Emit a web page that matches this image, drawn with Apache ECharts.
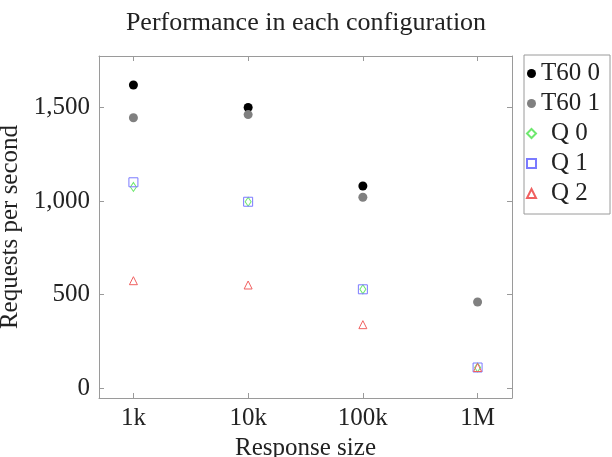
<!DOCTYPE html>
<html>
<head>
<meta charset="utf-8">
<script src="https://cdn.jsdelivr.net/npm/echarts@6/dist/echarts.min.js"></script>
<style>
  html, body { margin: 0; padding: 0; background: #fff; }
  #chart { width: 612px; height: 457px; }
</style>
</head>
<body>
<div id="chart"></div>
<script>
// response sizes, drawn at positions 0..3
var sizeLabels = ["1k", "10k", "100k", "1M"];
var yTicks = [0, 500, 1000, 1500];

// requests per second, one value per response size
var t60_0 = [1620, 1500, 1080, null];
var t60_1 = [1445, 1462, 1020, 460];
var q_0 = [1075, 996, 528, 110];
var q_1 = [1100, 996, 528, 110];
var q_2 = [574, 551, 339, 110];

var serif = "Liberation Serif";
var frame = "#9a9a9a";
var ink = "#222";

function pts(arr) {
  var out = [];
  arr.forEach(function (v, i) {
    if (v !== null) out.push([i, v]);
  });
  return out;
}

function fmtNum(v) {
  return String(v).replace(/\B(?=(\d{3})+(?!\d))/g, ",");
}

var chart = echarts.init(document.getElementById("chart"));

var xBase = {
  type: "value",
  min: -0.3,
  max: 3.3,
  splitLine: { show: false },
  axisLine: { show: true, onZero: false, lineStyle: { color: frame, width: 1 } },
  axisTick: { show: true, inside: true, length: 5, customValues: [0, 1, 2, 3], lineStyle: { color: frame } }
};
var yBase = {
  type: "value",
  min: -53,
  max: 1775,
  splitLine: { show: false },
  axisLine: { show: true, onZero: false, lineStyle: { color: frame, width: 1 } },
  axisTick: { show: true, inside: true, length: 5, customValues: yTicks, lineStyle: { color: frame } }
};

chart.setOption({
  animation: false,
  title: {
    text: "Performance in each configuration",
    left: "center",
    top: 5,
    textStyle: { fontFamily: serif, fontWeight: "normal", fontSize: 26, color: ink }
  },
  grid: { left: 99, top: 56, right: 100, bottom: 59, outerBoundsMode: "none" },
  xAxis: [
    Object.assign({}, xBase, {
      position: "bottom",
      name: "Response size",
      nameLocation: "middle",
      nameGap: 36,
      nameTextStyle: { fontFamily: serif, fontSize: 25, color: ink },
      axisLabel: {
        customValues: [0, 1, 2, 3],
        margin: 8,
        fontFamily: serif,
        fontSize: 25,
        color: ink,
        formatter: function (v) { return sizeLabels[Math.round(v)]; }
      }
    }),
    Object.assign({}, xBase, { position: "top", axisLabel: { show: false } })
  ],
  yAxis: [
    Object.assign({}, yBase, {
      position: "left",
      name: "Requests per second",
      nameLocation: "middle",
      nameGap: 63,
      nameTextStyle: { fontFamily: serif, fontSize: 25, color: ink },
      axisLabel: {
        customValues: yTicks,
        margin: 9,
        fontFamily: serif,
        fontSize: 25,
        color: ink,
        formatter: function (v) { return fmtNum(v); }
      }
    }),
    Object.assign({}, yBase, { position: "right", axisLabel: { show: false } })
  ],
  legend: {
    orient: "vertical",
    left: 524,
    top: 55,
    itemGap: 5,
    itemWidth: 9,
    itemHeight: 9,
    padding: [6, 10, 8, 2],
    borderColor: frame,
    borderWidth: 1,
    textStyle: {
      fontFamily: serif, fontSize: 25, color: ink,
      rich: { q: { fontFamily: serif, fontSize: 25, color: ink, padding: [0, 0, 0, 10] } }
    },
    formatter: function (name) {
      return name.charAt(0) === "Q" ? "{q|" + name + "}" : name;
    },
    data: [
      { name: "T60 0", icon: "circle" },
      { name: "T60 1", icon: "circle" },
      { name: "Q 0", icon: "diamond" },
      { name: "Q 1", icon: "rect" },
      { name: "Q 2", icon: "triangle" }
    ]
  },
  series: [
    {
      name: "T60 0", type: "scatter", symbol: "circle", symbolSize: 9,
      itemStyle: { color: "#000", opacity: 1 },
      data: pts(t60_0)
    },
    {
      name: "T60 1", type: "scatter", symbol: "circle", symbolSize: 9,
      itemStyle: { color: "#808080", opacity: 1 },
      data: pts(t60_1)
    },
    {
      name: "Q 0", type: "scatter", symbol: "diamond", symbolSize: [6, 9],
      itemStyle: { color: "rgba(0,0,0,0)", borderColor: "#6ee86e", borderWidth: 1, opacity: 1 },
      data: pts(q_0)
    },
    {
      name: "Q 1", type: "scatter", symbol: "rect", symbolSize: 9,
      itemStyle: { color: "rgba(0,0,0,0)", borderColor: "#7a7aff", borderWidth: 1, opacity: 1 },
      data: pts(q_1)
    },
    {
      name: "Q 2", type: "scatter", symbol: "triangle", symbolSize: 8,
      itemStyle: { color: "rgba(0,0,0,0)", borderColor: "#f06060", borderWidth: 1, opacity: 1 },
      data: pts(q_2)
    }
  ]
});
</script>
</body>
</html>
